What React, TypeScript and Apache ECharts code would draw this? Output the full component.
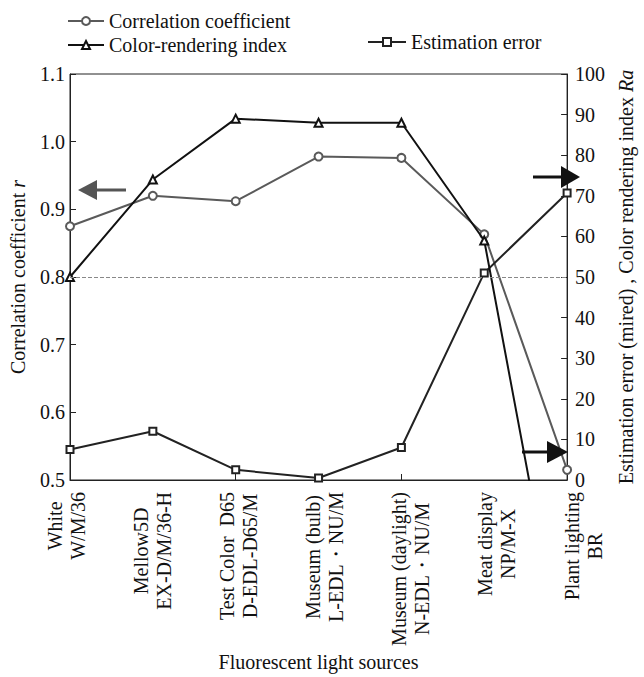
import React, { useEffect, useRef } from "react";
import * as echarts from "echarts";

const categories = [
  "White\nW/M/36",
  "Mellow5D\nEX-D/M/36-H",
  "Test Color  D65\nD-EDL-D65/M",
  "Museum (bulb)\nL-EDL・NU/M",
  "Museum (daylight)\nN-EDL・NU/M",
  "Meat display\nNP/M-X",
  "Plant lighting\nBR",
];
const correlation = [0.875, 0.92, 0.912, 0.978, 0.976, 0.863, 0.515];
const colorRendering = [50, 74, 89, 88, 88, 59, -50];
const estimationError = [7.5, 12, 2.5, 0.5, 8, 51, 70.7];
const leftTicks = { min: 0.5, max: 1.1, interval: 0.1 };
const rightTicks = { min: 0, max: 100, interval: 10 };

const FONT = "'Liberation Serif', 'Times New Roman', serif";
const FS = 20;
const LH = 23;

function measure(texts: string[]): number[] {
  const ctx = document.createElement("canvas").getContext("2d");
  if (!ctx) return texts.map((t) => t.length * FS * 0.45);
  ctx.font = `${FS}px ${FONT}`;
  return texts.map((t) => ctx.measureText(t).width);
}

export default function App() {
  const ref = useRef<HTMLDivElement>(null);
  useEffect(() => {
    if (!ref.current) return;
    const chart = echarts.init(ref.current, null, { renderer: "svg" });

    const line1 = categories.map((c) => c.split("\n")[0]);
    const line2 = categories.map((c) => c.split("\n")[1] || "");
    const w1 = measure(line1);
    const w2 = measure(line2);
    const maxW = w1.map((w, i) => Math.max(w, w2[i]));
    const axisData1 = line1.map((t, i) => ({ value: t, textStyle: { padding: [0, (maxW[i] - w1[i]) / 2, 0, 0] } }));
    const axisData2 = line2.map((t, i) => ({ value: t, textStyle: { padding: [0, (maxW[i] - w2[i]) / 2, 0, 0] } }));

    const G = { left: 66, right: 61, top: 74, bottom: 196 };
    const half = LH / 2;

    const axisLine = { show: true, lineStyle: { color: "#222", width: 1 } };
    const tick = { show: true, inside: true, length: 6, lineStyle: { color: "#222" } };
    const catLabel = {
      rotate: 90,
      interval: 0,
      fontFamily: FONT,
      fontSize: FS,
      color: "#111",
      margin: 11,
      lineHeight: LH,
    };
    const labelAxis = (gridIndex: number, data: object[]) => ({
      type: "category",
      gridIndex,
      position: "bottom",
      data,
      boundaryGap: false,
      axisLine: { show: false },
      axisTick: { show: false },
      splitLine: { show: false },
      axisLabel: catLabel,
    });
    chart.setOption({
      animation: false,
      backgroundColor: "#fff",
      textStyle: { fontFamily: FONT, color: "#111" },
      grid: [
        {
          ...G,
          show: true,
          borderColor: "#222",
          borderWidth: 1,
          backgroundColor: "transparent",
        },
        { ...G, left: G.left - half, right: G.right + half },
        { ...G, left: G.left + half, right: G.right - half },
      ],
      legend: [
        {
          data: ["Correlation coefficient", "Color-rendering index"],
          orient: "vertical",
          left: 62,
          top: 6,
          itemGap: 4,
          itemWidth: 36,
          itemHeight: 10,
          textStyle: { fontFamily: FONT, fontSize: FS, color: "#111" },
        },
        {
          data: ["Estimation error"],
          left: 362,
          top: 27,
          itemWidth: 38,
          itemHeight: 10,
          textStyle: { fontFamily: FONT, fontSize: FS, color: "#111" },
        },
      ],
      xAxis: [
        {
          type: "category",
          gridIndex: 0,
          position: "bottom",
          data: categories,
          boundaryGap: false,
          axisLine,
          axisTick: tick,
          axisLabel: { show: false },
          splitLine: { show: false },
          name: "Fluorescent light sources",
          nameLocation: "middle",
          nameGap: 172,
          nameTextStyle: { fontFamily: FONT, fontSize: FS, color: "#111" },
        },
        labelAxis(1, axisData1),
        labelAxis(2, axisData2),
      ],
      yAxis: [
        {
          type: "value",
          gridIndex: 0,
          position: "left",
          min: leftTicks.min,
          max: leftTicks.max,
          interval: leftTicks.interval,
          axisLine,
          axisTick: tick,
          axisLabel: {
            fontFamily: FONT,
            fontSize: FS,
            color: "#111",
            margin: 5,
            formatter: (v: number) => v.toFixed(1),
          },
          splitLine: { show: false },
          name: "Correlation coefficient {i|r}",
          nameLocation: "middle",
          nameRotate: 90,
          nameGap: 42,
          nameTextStyle: {
            fontFamily: FONT,
            fontSize: FS,
            color: "#111",
            rich: { i: { fontStyle: "italic", fontFamily: FONT, fontSize: FS, color: "#111" } },
          },
        },
        {
          type: "value",
          gridIndex: 0,
          position: "right",
          min: rightTicks.min,
          max: rightTicks.max,
          interval: rightTicks.interval,
          axisLine,
          axisTick: tick,
          axisLabel: { fontFamily: FONT, fontSize: FS, color: "#111", margin: 8 },
          splitLine: { show: false },
          name: "Estimation error (mired) , Color rendering index {i|Ra}",
          nameLocation: "middle",
          nameRotate: 90,
          nameGap: 36,
          nameTextStyle: {
            fontFamily: FONT,
            fontSize: FS,
            color: "#111",
            rich: { i: { fontStyle: "italic", fontFamily: FONT, fontSize: FS, color: "#111" } },
          },
        },
        { type: "value", gridIndex: 1, show: false },
        { type: "value", gridIndex: 2, show: false },
      ],
      series: [
        {
          name: "Correlation coefficient",
          type: "line",
          xAxisIndex: 0,
          yAxisIndex: 0,
          data: correlation,
          symbol: "emptyCircle",
          symbolSize: 8,
          lineStyle: { color: "#5a5a5a", width: 2 },
          itemStyle: { color: "#5a5a5a", borderWidth: 1 },
          z: 3,
          markLine: {
            silent: true,
            symbol: "none",
            label: { show: false },
            lineStyle: { color: "#888", type: "dashed", width: 1 },
            data: [{ yAxis: 0.8 }],
          },
        },
        {
          name: "Color-rendering index",
          type: "line",
          xAxisIndex: 0,
          yAxisIndex: 1,
          data: colorRendering,
          symbol: "emptyTriangle",
          symbolSize: 8,
          lineStyle: { color: "#111", width: 2 },
          itemStyle: { color: "#111", borderWidth: 1 },
          clip: true,
          z: 4,
        },
        {
          name: "Estimation error",
          type: "line",
          xAxisIndex: 0,
          yAxisIndex: 1,
          data: estimationError,
          symbol: "emptyRect",
          symbolSize: 7,
          lineStyle: { color: "#222", width: 2 },
          itemStyle: { color: "#222", borderWidth: 1 },
          z: 3,
        },
      ],
      graphic: [
        { type: "line", shape: { x1: 95, y1: 190, x2: 126, y2: 190 }, style: { stroke: "#555", lineWidth: 3 }, z: 10 },
        { type: "polygon", shape: { points: [[78, 190], [97, 180], [97, 200]] }, style: { fill: "#555" }, z: 10 },
        { type: "line", shape: { x1: 533, y1: 177, x2: 563, y2: 177 }, style: { stroke: "#111", lineWidth: 3 }, z: 10 },
        { type: "polygon", shape: { points: [[580, 177], [561, 166], [561, 188]] }, style: { fill: "#111" }, z: 10 },
        { type: "line", shape: { x1: 522, y1: 452, x2: 549, y2: 452 }, style: { stroke: "#111", lineWidth: 3 }, z: 10 },
        { type: "polygon", shape: { points: [[568, 452], [547, 441], [547, 463]] }, style: { fill: "#111" }, z: 10 },
      ],
    });
    return () => chart.dispose();
  }, []);
  return <div ref={ref} style={{ width: 644, height: 677, position: "absolute", left: 0, top: 0 }} />;
}
